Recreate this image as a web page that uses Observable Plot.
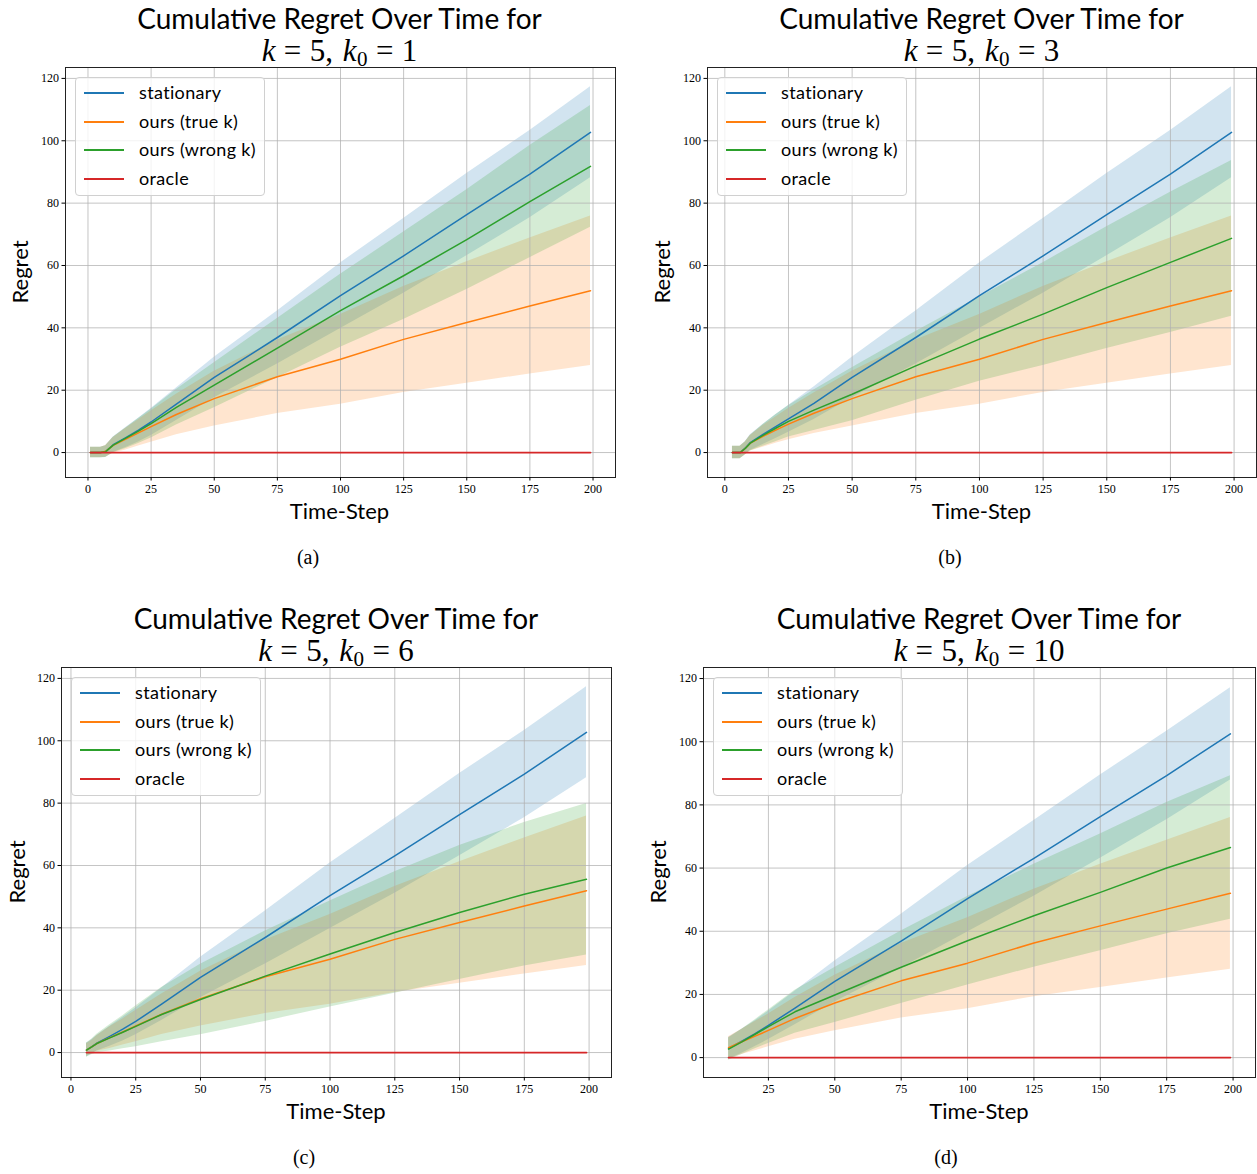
<!DOCTYPE html>
<html><head><meta charset="utf-8">
<script src="https://cdn.jsdelivr.net/npm/d3@7"></script>
<script src="https://cdn.jsdelivr.net/npm/@observablehq/plot@0.6"></script>
<style>
body{margin:0;background:#fff;}
#fig{position:relative;width:1257px;height:1174px;overflow:hidden;background:#fff;}
.c{position:absolute;transform:translate(-50%,-50%);white-space:nowrap;color:#000;line-height:1;}
.t1{font-family:Lato,sans-serif;font-size:28px;}
.t2{font-family:"Liberation Serif",serif;font-size:31px;}
.t2 .eq{margin:0 0.27em;}
.t2 .cm{margin-right:0.32em;}
.t2 sub{font-size:0.68em;vertical-align:-0.22em;font-style:normal;margin-left:0.02em;line-height:0;}
.lab{font-family:Lato,sans-serif;font-size:22px;}
.cap{font-family:"Liberation Serif",serif;font-size:20px;}
.leg{position:absolute;background:rgba(255,255,255,0.8);border:1px solid #d0d0d0;border-radius:4px;box-sizing:border-box;}
.leg .ln{position:absolute;height:2px;}
.leg .tx{position:absolute;font-family:Lato,sans-serif;font-size:18px;line-height:1;letter-spacing:0.35px;transform:translateY(-54%);white-space:nowrap;}
.plot{position:absolute;}
.plot svg{max-width:none !important;}
</style></head><body><div id="fig"></div>
<script>
// ---------- data ----------
const seriesNames = ["stationary", "ours (true k)", "ours (wrong k)", "oracle"];
const seriesColors = ["#1f77b4", "#ff7f0e", "#2ca02c", "#d62728"];
const panelLabels = ["(a)", "(b)", "(c)", "(d)"];
const k0Values = [1, 3, 6, 10];
const xTickValues = [0, 25, 50, 75, 100, 125, 150, 175, 200];
const yTickValues = [0, 20, 40, 60, 80, 100, 120];

// panel (a)  k0 = 1
const stepsA      = [1, 3, 5, 7, 10, 15, 20, 25, 35, 50, 75, 100, 125, 150, 175, 199];
const statMeanA   = [0, 0, 0, 0.3, 2.5, 4.8, 7.2, 9.8, 15.5, 24.1, 36.9, 50.3, 63.1, 76.3, 89.3, 102.7];
const statSdA     = [1.7, 1.7, 1.7, 1.9, 2.5, 3.2, 3.8, 4.3, 5.2, 6.5, 8.5, 10.5, 12.0, 13.2, 14.0, 14.6];
const trueMeanA   = [0, 0, 0, 0.4, 2.3, 4.3, 6.3, 8.3, 12.2, 17.3, 24.3, 29.9, 36.3, 41.7, 47.0, 51.9];
const trueSdA     = [1.7, 1.7, 1.7, 1.9, 2.5, 3.5, 4.2, 5.0, 6.5, 8.8, 11.8, 14.4, 17.0, 19.5, 21.8, 24.0];
const wrongMeanA  = [0, 0, 0, 0.3, 2.4, 4.6, 6.9, 9.3, 14.5, 21.6, 33.5, 45.5, 56.7, 68.3, 80.5, 91.8];
const wrongSdA    = [1.7, 1.7, 1.7, 1.9, 2.5, 3.3, 4.0, 4.6, 5.7, 7.2, 9.5, 11.7, 14.0, 16.0, 18.0, 19.5];
const oracleStepsA = [1, 199];
const oracleA      = [0, 0];

// panel (b)  k0 = 3
const stepsB      = [3, 5, 6, 8, 10, 15, 20, 25, 35, 50, 75, 100, 125, 150, 175, 199];
const statMeanB   = [0, 0, 0, 1.4, 3.2, 5.8, 8.3, 10.8, 15.8, 24.1, 36.9, 50.3, 63.1, 76.3, 89.3, 102.7];
const statSdB     = [2.0, 2.0, 2.0, 2.1, 2.5, 3.2, 3.8, 4.3, 5.2, 6.5, 8.5, 10.5, 12.0, 13.2, 14.0, 14.6];
const trueMeanB   = [0, 0, 0, 1.3, 3.0, 5.2, 7.2, 9.1, 12.6, 17.3, 24.3, 29.9, 36.3, 41.7, 47.0, 51.9];
const trueSdB     = [2.0, 2.0, 2.0, 2.1, 2.5, 3.5, 4.2, 5.0, 6.5, 8.8, 11.8, 14.4, 17.0, 19.5, 21.8, 24.0];
const wrongMeanB  = [0, 0, 0, 1.3, 3.0, 5.5, 7.8, 10.0, 13.6, 18.7, 27.8, 36.4, 44.4, 52.9, 61.0, 68.7];
const wrongSdB    = [2.0, 2.0, 2.0, 2.1, 2.5, 3.5, 4.3, 5.0, 6.5, 8.5, 11.0, 13.5, 16.5, 19.5, 22.5, 25.0];
const oracleStepsB = [3, 199];
const oracleB      = [0, 0];

// panel (c)  k0 = 6
const stepsC      = [6, 8, 10, 15, 20, 25, 35, 50, 75, 100, 125, 150, 175, 199];
const statMeanC   = [0.8, 1.8, 3.0, 5.2, 7.5, 10.0, 15.5, 24.1, 36.9, 50.3, 63.1, 76.3, 89.3, 102.7];
const statSdC     = [2.2, 2.3, 2.5, 3.2, 3.8, 4.3, 5.2, 6.5, 8.5, 10.5, 12.0, 13.2, 14.0, 14.6];
const trueMeanC   = [0.8, 1.8, 2.9, 4.8, 6.6, 8.5, 12.3, 17.3, 24.3, 29.9, 36.3, 41.7, 47.0, 51.9];
const trueSdC     = [2.0, 2.1, 2.5, 3.5, 4.2, 5.0, 6.5, 8.8, 11.8, 14.4, 17.0, 19.5, 21.8, 24.0];
const wrongMeanC  = [0.8, 1.8, 2.9, 4.7, 6.5, 8.4, 12.2, 17.0, 24.5, 31.6, 38.5, 44.9, 50.8, 55.6];
const wrongSdC    = [2.3, 2.5, 3.0, 4.2, 5.3, 6.5, 8.7, 11.3, 14.5, 17.0, 19.5, 21.5, 23.0, 24.3];
const oracleStepsC = [6, 199];
const oracleC      = [0, 0];

// panel (d)  k0 = 10
const stepsD      = [10, 15, 20, 25, 35, 50, 75, 100, 125, 150, 175, 199];
const statMeanD   = [2.9, 5.2, 7.6, 10.2, 15.7, 24.1, 36.9, 50.3, 63.1, 76.3, 89.3, 102.5];
const statSdD     = [3.5, 3.8, 4.1, 4.5, 5.3, 6.5, 8.5, 10.5, 12.0, 13.2, 14.0, 14.6];
const trueMeanD   = [3.1, 5.0, 6.8, 8.6, 12.4, 17.3, 24.3, 29.9, 36.3, 41.7, 47.0, 52.0];
const trueSdD     = [3.5, 4.0, 4.6, 5.2, 6.6, 8.8, 11.8, 14.4, 17.0, 19.5, 21.8, 24.0];
const wrongMeanD  = [2.7, 5.0, 7.4, 9.8, 14.5, 19.8, 28.6, 37.0, 44.9, 52.3, 60.0, 66.5];
const wrongSdD    = [3.5, 4.0, 4.6, 5.3, 6.8, 8.7, 11.5, 14.0, 16.3, 18.5, 20.8, 22.7];
const oracleStepsD = [10, 199];
const oracleD      = [0, 0];

// ---------- layout ----------
const fig = document.getElementById("fig");
function el(cls, html, x, y, extra) {
  const d = document.createElement("div");
  d.className = cls; d.innerHTML = html;
  d.style.left = x + "px"; d.style.top = y + "px";
  if (extra) Object.assign(d.style, extra);
  fig.appendChild(d); return d;
}

const panels = [
  {steps: stepsA, means: [statMeanA, trueMeanA, wrongMeanA], sds: [statSdA, trueSdA, wrongSdA], oSteps: oracleStepsA, oVals: oracleA,
   frame: [64.5, 614.5, 67, 477], xd: [-8.9, 208.9], yd: [-8, 123.5], ylabX: 20, capX: 308},
  {steps: stepsB, means: [statMeanB, trueMeanB, wrongMeanB], sds: [statSdB, trueSdB, wrongSdB], oSteps: oracleStepsB, oVals: oracleB,
   frame: [707, 1256, 67, 477], xd: [-6.8, 208.8], yd: [-8, 123.5], ylabX: 662, capX: 950},
  {steps: stepsC, means: [statMeanC, trueMeanC, wrongMeanC], sds: [statSdC, trueSdC, wrongSdC], oSteps: oracleStepsC, oVals: oracleC,
   frame: [61, 611, 667, 1077], xd: [-3.65, 208.65], yd: [-8, 123.5], ylabX: 17, capX: 304},
  {steps: stepsD, means: [statMeanD, trueMeanD, wrongMeanD], sds: [statSdD, trueSdD, wrongSdD], oSteps: oracleStepsD, oVals: oracleD,
   frame: [703, 1255, 667, 1077], xd: [0.55, 208.45], yd: [-6.3, 123.5], ylabX: 657.5, capX: 946}
];

panels.forEach((p, pi) => {
  const [L, R, T, B] = p.frame;
  const mL = 60, mR = 12, mT = 10, mB = 36;
  const W = (R - L) + mL + mR, H = (B - T) + mT + mB;
  const xt = xTickValues.filter(v => v >= p.xd[0] && v <= p.xd[1]);
  const rows = i => p.steps.map((t, j) => ({t, m: p.means[i][j], lo: p.means[i][j] - p.sds[i][j], hi: p.means[i][j] + p.sds[i][j]}));
  const marks = [];
  for (let i = 0; i < 3; i++) marks.push(Plot.areaY(rows(i), {x: "t", y1: "lo", y2: "hi", fill: seriesColors[i], fillOpacity: 0.2}));
  marks.push(Plot.gridX(xt, {stroke: "#b0b0b0", strokeOpacity: 0.75, strokeWidth: 1}));
  marks.push(Plot.gridY(yTickValues, {stroke: "#b0b0b0", strokeOpacity: 0.75, strokeWidth: 1}));
  for (let i = 0; i < 3; i++) marks.push(Plot.lineY(rows(i), {x: "t", y: "m", stroke: seriesColors[i], strokeWidth: 1.5}));
  marks.push(Plot.lineY(p.oSteps.map((t, j) => ({t, v: p.oVals[j]})), {x: "t", y: "v", stroke: seriesColors[3], strokeWidth: 1.8}));
  marks.push(Plot.frame({stroke: "#222", strokeWidth: 1}));
  marks.push(Plot.axisX(xt, {tickSize: 3.5, tickPadding: 3, label: null, fontSize: 12}));
  marks.push(Plot.axisY(yTickValues, {tickSize: 3.5, tickPadding: 3, label: null, fontSize: 12}));
  const svg = Plot.plot({
    width: W, height: H, marginLeft: mL, marginRight: mR, marginTop: mT, marginBottom: mB,
    x: {domain: p.xd}, y: {domain: p.yd},
    style: {fontFamily: "'Liberation Serif', serif", fontSize: "12px", color: "#000", background: "transparent", overflow: "visible", maxWidth: "none"},
    marks
  });
  const wrap = document.createElement("div");
  wrap.className = "plot";
  wrap.style.left = (L - mL) + "px"; wrap.style.top = (T - mT) + "px";
  wrap.style.width = W + "px"; wrap.style.height = H + "px";
  wrap.appendChild(svg); fig.appendChild(wrap);

  const cx = (L + R) / 2, cy = (T + B) / 2;
  el("c t1", "Cumulative Regret Over Time for", cx, T - 49);
  el("c t2", `<i>k</i><span class="eq">=</span>5,<span class="cm"></span><i>k</i><sub>0</sub><span class="eq">=</span>${k0Values[pi]}`, cx, T - 17);
  el("c lab", "Regret", p.ylabX, cy, {transform: "translate(-50%,-50%) rotate(-90deg)"});
  el("c lab", "Time-Step", cx, B + 34);
  el("c cap", panelLabels[pi], p.capX, B + 80);

  const lg = document.createElement("div");
  lg.className = "leg";
  Object.assign(lg.style, {left: Math.round(L + 10) + "px", top: (T + 10) + "px", width: "190px", height: "119px"});
  seriesNames.forEach((n, i) => {
    const y = Math.round(15 + i * 28.7);
    const ln = document.createElement("div");
    ln.className = "ln";
    Object.assign(ln.style, {left: "8px", width: "40px", top: (y - 1) + "px", background: seriesColors[i]});
    const tx = document.createElement("div");
    tx.className = "tx"; tx.textContent = n;
    Object.assign(tx.style, {left: "63px", top: y + "px"});
    lg.appendChild(ln); lg.appendChild(tx);
  });
  fig.appendChild(lg);
});
</script>
</body></html>
